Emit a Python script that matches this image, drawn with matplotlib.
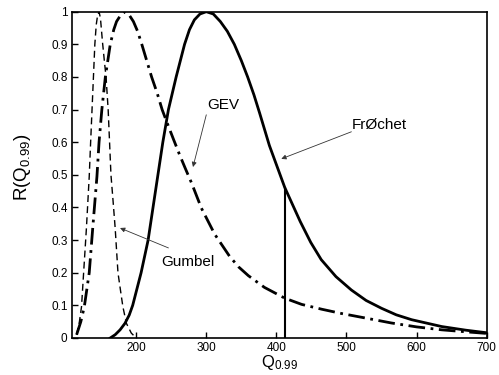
import matplotlib
matplotlib.use("Agg")
import matplotlib.pyplot as plt

plt.rcParams['font.family'] = ['Liberation Sans', 'DejaVu Sans']
plt.rcParams['mathtext.default'] = 'regular'

# values
gumbel_x = [115, 119, 122, 125, 129, 133, 135, 137, 139, 141, 143, 145, 147, 149, 152, 155, 157, 160, 162, 164, 167, 170, 174, 178, 181, 186, 193, 200]
gumbel_y = [0.01, 0.05, 0.096, 0.2, 0.337, 0.495, 0.6, 0.7, 0.8, 0.9, 0.96, 0.99, 1.0, 0.98, 0.905, 0.84, 0.8, 0.7, 0.6, 0.5, 0.42, 0.337, 0.2, 0.14, 0.096, 0.045, 0.015, 0.0]

gev_x = [115, 121, 126, 133, 138, 144, 147, 151, 156, 163, 168, 172, 178, 184, 190, 196, 202, 208, 215, 222, 230, 237, 244, 253, 262, 270, 279, 293, 312, 333, 346, 360, 383, 412, 436, 465, 493, 530, 564, 600, 636, 670, 700]
gev_y = [0.01, 0.05, 0.096, 0.2, 0.337, 0.495, 0.6, 0.7, 0.8, 0.9, 0.945, 0.97, 0.99, 1.0, 0.99, 0.97, 0.94, 0.9, 0.85, 0.8, 0.75, 0.7, 0.66, 0.61, 0.561, 0.52, 0.475, 0.398, 0.318, 0.251, 0.218, 0.191, 0.155, 0.122, 0.103, 0.088, 0.075, 0.06, 0.046, 0.034, 0.025, 0.019, 0.014]

frechet_x = [163, 170, 177, 184, 190, 195, 207, 217, 224, 231, 238, 246, 257, 269, 276, 283, 291, 300, 310, 320, 330, 340, 350, 359, 368, 376, 390, 412, 434, 449, 464, 485, 507, 528, 550, 571, 593, 636, 670, 700]
frechet_y = [0.0, 0.01, 0.025, 0.045, 0.07, 0.1, 0.2, 0.3, 0.4, 0.5, 0.6, 0.7, 0.8, 0.9, 0.945, 0.975, 0.993, 1.0, 0.993, 0.97, 0.94, 0.9, 0.85, 0.8, 0.745, 0.69, 0.59, 0.461, 0.357, 0.293, 0.24, 0.188, 0.147, 0.115, 0.091, 0.071, 0.056, 0.035, 0.024, 0.016]

q99_x = 412
q99_y = 0.461

xticks = [200, 300, 400, 500, 600, 700]
yticks = [0, 0.1, 0.2, 0.3, 0.4, 0.5, 0.6, 0.7, 0.8, 0.9, 1]
ytick_labels = ['0', '0.1', '0.2', '0.3', '0.4', '0.5', '0.6', '0.7', '0.8', '0.9', '1']

fig = plt.figure(figsize=(4.99, 3.75), dpi=100)
ax = fig.add_axes([0.1437, 0.0987, 0.8316, 0.8701])

ax.plot(gumbel_x, gumbel_y, color='black', lw=1.0, linestyle=(0, (5, 3)))
ax.plot(gev_x, gev_y, color='black', lw=2.0, linestyle=(0, (6, 2, 1, 2)))
ax.plot(frechet_x, frechet_y, color='black', lw=2.0)
ax.plot([q99_x, q99_x], [0, q99_y], color='black', lw=1.5)

ax.set_xlim(108, 700)
ax.set_ylim(0, 1)
ax.set_xticks(xticks)
ax.set_yticks(yticks)
ax.set_yticklabels(ytick_labels)
ax.tick_params(direction='in', length=4, width=1, labelsize=8.5, pad=3)
for sp in ax.spines.values():
    sp.set_linewidth(1.2)

arrow = dict(arrowstyle='-|>', lw=0.6, color='#333333', mutation_scale=7, shrinkA=0, shrinkB=0)
ax.annotate('', xy=(281, 0.524), xytext=(300, 0.684), arrowprops=arrow)
ax.annotate('', xy=(177, 0.337), xytext=(246, 0.276), arrowprops=arrow)
ax.annotate('', xy=(407, 0.549), xytext=(507, 0.632), arrowprops=arrow)
ax.text(324, 0.715, 'GEV', fontsize=11, ha='center', va='center')
ax.text(274, 0.233, 'Gumbel', fontsize=11, ha='center', va='center')
ax.text(547, 0.653, 'FrØchet', fontsize=11, ha='center', va='center')

ax.set_xlabel('$Q_{0.99}$', fontsize=12)
ax.xaxis.set_label_coords(0.502, -0.045)
ax.set_ylabel('$R(Q_{0.99})$', fontsize=13.5)
ax.yaxis.set_label_coords(-0.094, 0.524)

fig.savefig('out.png', dpi=100)
